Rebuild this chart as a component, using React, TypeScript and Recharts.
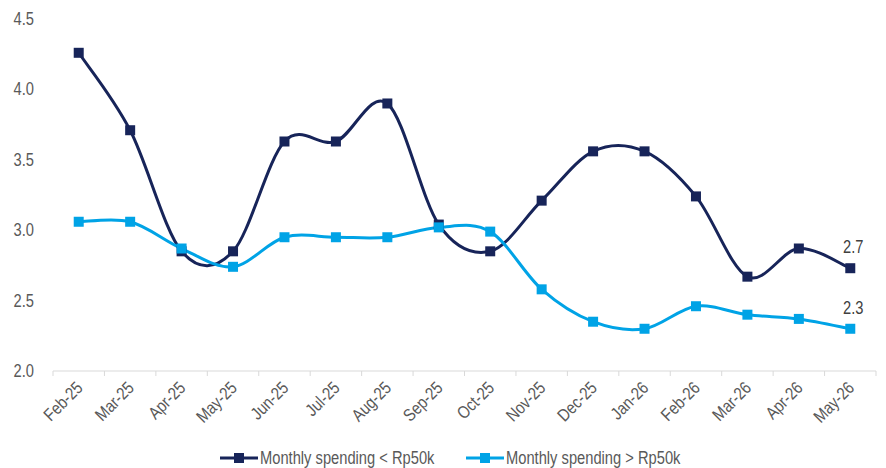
import { LineChart, Line, XAxis, YAxis, Legend, LabelList } from 'recharts';

const months = ['Feb-25', 'Mar-25', 'Apr-25', 'May-25', 'Jun-25', 'Jul-25', 'Aug-25', 'Sep-25', 'Oct-25', 'Nov-25', 'Dec-25', 'Jan-26', 'Feb-26', 'Mar-26', 'Apr-26', 'May-26'];
const below50k = [4.26, 3.71, 2.85, 2.85, 3.63, 3.63, 3.90, 3.04, 2.85, 3.21, 3.56, 3.56, 3.24, 2.67, 2.87, 2.73];
const above50k = [3.06, 3.06, 2.87, 2.74, 2.95, 2.95, 2.95, 3.02, 2.99, 2.58, 2.35, 2.30, 2.46, 2.40, 2.37, 2.30];
const yTicks = [2.0, 2.5, 3.0, 3.5, 4.0, 4.5];

const seriesNames = ['Monthly spending < Rp50k', 'Monthly spending > Rp50k'];
const DARK = '#172459';
const LIGHT = '#00A3E6';
const TEXT = '#595959';
const FONT = "'Liberation Sans', Arial, sans-serif";
const SQUASH = 0.84;
const FS = 17.5;

const data = months.map((m, i) => ({ month: m, below: below50k[i], above: above50k[i] }));

const W = 886;
const H = 468;
const plotLeft = 53;
const plotRight = 876;
const band = (plotRight - plotLeft) / months.length;

// excel-like smoothing (catmull-rom through every point)
function smoothCurve(context: any) {
  let pts: number[][] = [];
  return {
    areaStart() {},
    areaEnd() {},
    lineStart() { pts = []; },
    point(x: number, y: number) { pts.push([+x, +y]); },
    lineEnd() {
      const n = pts.length;
      if (!n) return;
      context.moveTo(pts[0][0], pts[0][1]);
      for (let i = 0; i < n - 1; i++) {
        const p0 = pts[Math.max(i - 1, 0)];
        const p1 = pts[i];
        const p2 = pts[i + 1];
        const p3 = pts[Math.min(i + 2, n - 1)];
        context.bezierCurveTo(
          p1[0] + (p2[0] - p0[0]) / 6, p1[1] + (p2[1] - p0[1]) / 6,
          p2[0] - (p3[0] - p1[0]) / 6, p2[1] - (p3[1] - p1[1]) / 6,
          p2[0], p2[1]
        );
      }
    },
  };
}

const squareDot = (color: string) => (props: any) => {
  const { cx, cy, index } = props;
  return <rect key={`d-${color}-${index}`} x={cx - 5} y={cy - 5} width={10} height={10} fill={color} />;
};

const XTick = (props: any) => {
  const { x, y, payload, index } = props;
  return (
    <g>
      <line x1={x - band / 2} x2={x - band / 2} y1={y} y2={y + 5} stroke="#d9d9d9" strokeWidth={1} />
      {index === months.length - 1 && (
        <line x1={x + band / 2} x2={x + band / 2} y1={y} y2={y + 5} stroke="#d9d9d9" strokeWidth={1} />
      )}
      <text
        transform={`translate(${x + 5},${y + 18}) rotate(-45) scale(${SQUASH},1)`}
        textAnchor="end"
        fill={TEXT}
        fontSize={FS}
        fontFamily={FONT}
      >
        {payload.value}
      </text>
    </g>
  );
};

const YTick = (props: any) => {
  const { x, y, payload } = props;
  return (
    <text
      transform={`translate(${x - 19},${y + 6}) scale(${SQUASH},1)`}
      textAnchor="end"
      fill={TEXT}
      fontSize={FS}
      fontFamily={FONT}
    >
      {payload.value.toFixed(1)}
    </text>
  );
};

const lastLabel = (props: any) => {
  const { x, y, value, index } = props;
  if (index !== months.length - 1) return null;
  return (
    <text
      transform={`translate(${x + 3},${y - 15}) scale(${SQUASH},1)`}
      textAnchor="middle"
      fill="#404040"
      fontSize={FS}
      fontFamily={FONT}
    >
      {value.toFixed(1)}
    </text>
  );
};

const LegendBox = () => {
  const items = [
    { name: seriesNames[0], color: DARK, x: 220 },
    { name: seriesNames[1], color: LIGHT, x: 466 },
  ];
  return (
    <svg width={W} height={20} style={{ display: 'block' }}>
      {items.map(it => (
        <g key={it.name}>
          <line x1={it.x} x2={it.x + 38} y1={10} y2={10} stroke={it.color} strokeWidth={3} />
          <rect x={it.x + 14} y={5} width={10} height={10} fill={it.color} />
          <text
            transform={`translate(${it.x + 40},${16}) scale(${SQUASH},1)`}
            fill={TEXT}
            fontSize={FS}
            fontFamily={FONT}
          >
            {it.name}
          </text>
        </g>
      ))}
    </svg>
  );
};

export default function App() {
  return (
    <div style={{ position: 'absolute', left: 0, top: 0, width: W, height: H, background: '#fff' }}>
      <LineChart width={W} height={H} data={data} margin={{ top: 19, right: W - plotRight, bottom: 0, left: 0 }}>
        <XAxis
          dataKey="month"
          height={77}
          interval={0}
          padding={{ left: band / 2, right: band / 2 }}
          axisLine={{ stroke: '#d9d9d9', strokeWidth: 1 }}
          tickLine={false}
          tickSize={0}
          tickMargin={0}
          tick={<XTick />}
        />
        <YAxis
          width={plotLeft}
          domain={[2, 4.5]}
          ticks={yTicks}
          axisLine={false}
          tickLine={false}
          tickSize={0}
          tickMargin={0}
          tick={<YTick />}
        />
        <Legend
          verticalAlign="bottom"
          content={() => <LegendBox />}
          wrapperStyle={{ left: 0, width: W, height: 20, bottom: 0 }}
        />
        <Line
          name={seriesNames[0]}
          dataKey="below"
          type={smoothCurve as any}
          stroke={DARK}
          strokeWidth={3}
          dot={squareDot(DARK)}
          activeDot={false}
          isAnimationActive={false}
        >
          <LabelList dataKey="below" content={lastLabel} />
        </Line>
        <Line
          name={seriesNames[1]}
          dataKey="above"
          type={smoothCurve as any}
          stroke={LIGHT}
          strokeWidth={3}
          dot={squareDot(LIGHT)}
          activeDot={false}
          isAnimationActive={false}
        >
          <LabelList dataKey="above" content={lastLabel} />
        </Line>
      </LineChart>
    </div>
  );
}
